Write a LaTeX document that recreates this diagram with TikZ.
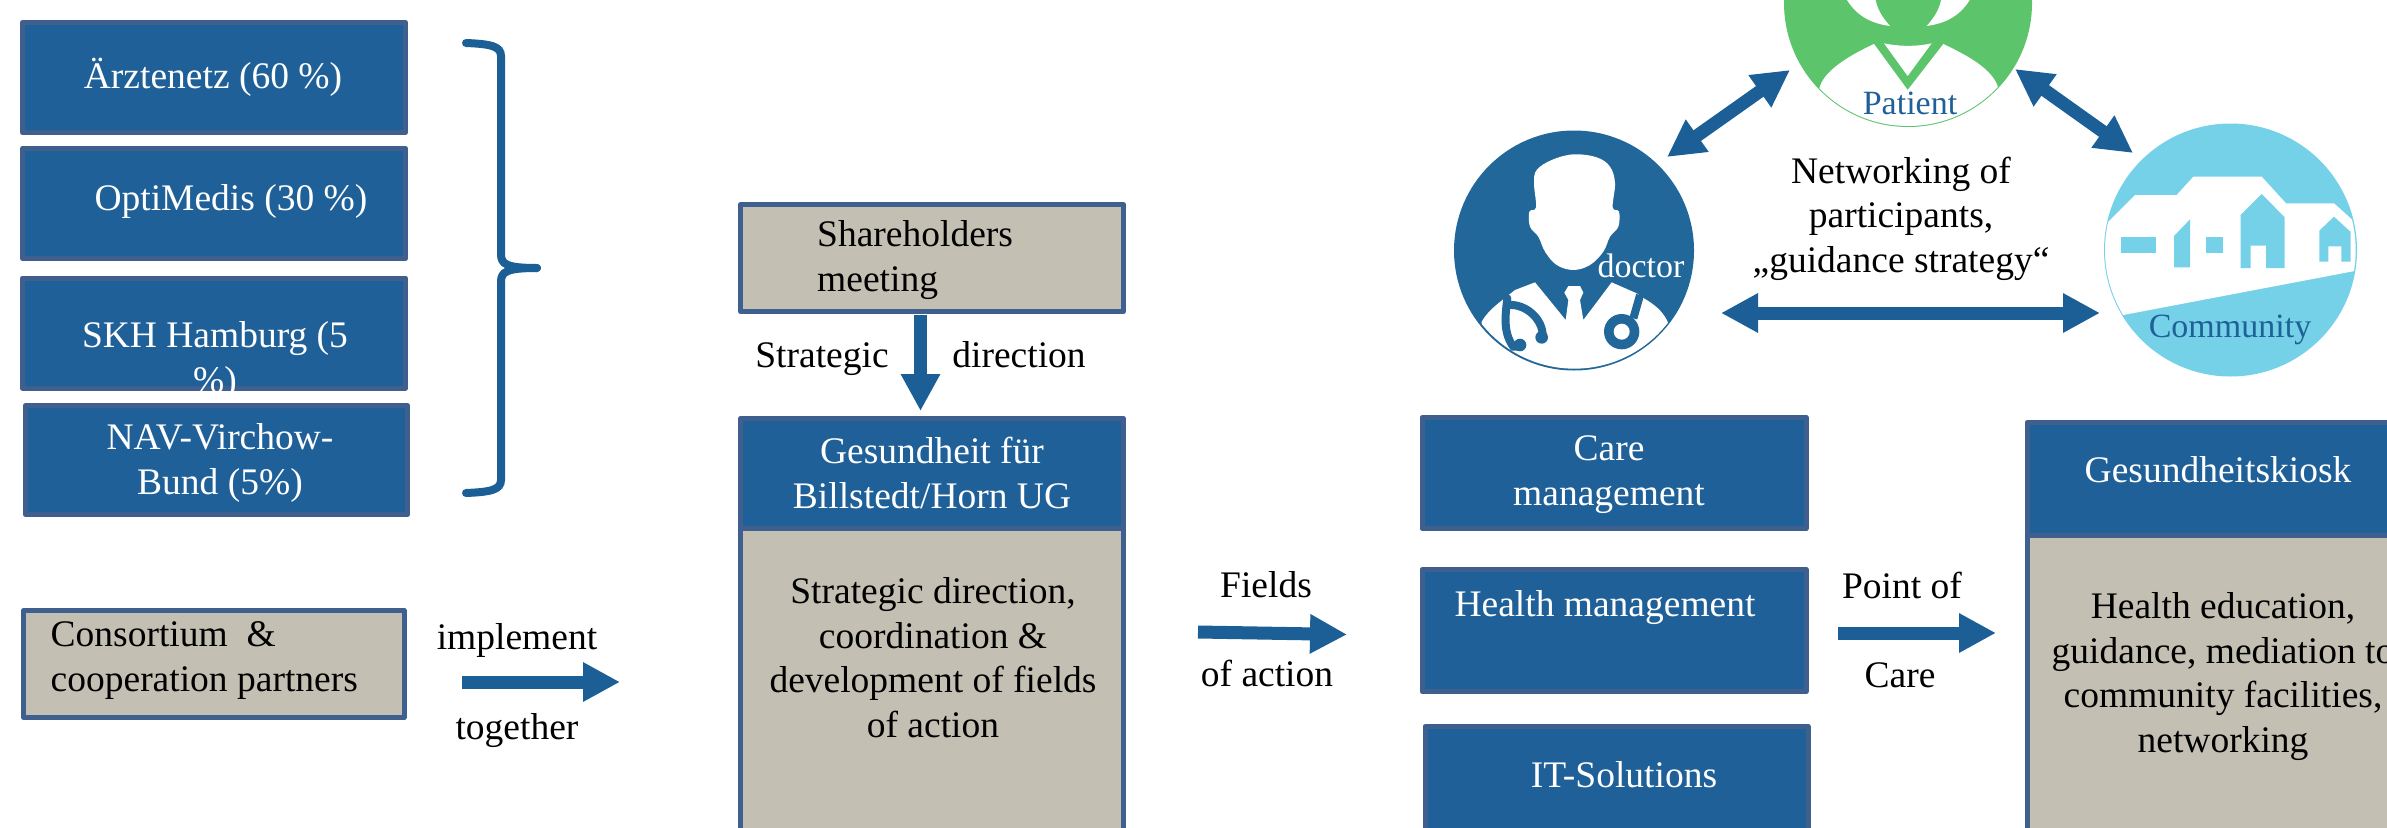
\documentclass[tikz,border=0pt]{standalone}
\usepackage{fontspec}
\setmainfont{Liberation Serif}
\usetikzlibrary{arrows.meta}
\definecolor{boxblue}{HTML}{1F6098}
\definecolor{edgeblue}{HTML}{3F5F8F}
\definecolor{boxtan}{HTML}{C3BFB3}
\definecolor{arrowblue}{HTML}{1C5F96}
\definecolor{docblue}{HTML}{22679A}
\definecolor{patgreen}{HTML}{5CC46B}
\definecolor{comcyan}{HTML}{75D1E8}
\tikzset{
  bluebox/.style={draw=edgeblue, line width=5pt, line join=round, fill=boxblue},
  tanbox/.style={draw=edgeblue, line width=5pt, line join=round, fill=boxtan},
  txt/.style={anchor=base, inner sep=0pt, align=center, font=\fontsize{37.5}{44.5}\selectfont},
  whitetxt/.style={txt, text=white},
  logotxt/.style={anchor=base, inner sep=0pt, font=\fontsize{34}{40}\selectfont},
  blockarrow/.style={line width=13pt, arrowblue, -{Triangle[length=37pt,width=37pt]}},
  twoarrow/.style={line width=13pt, arrowblue, {Triangle[length=37pt,width=37pt]}-{Triangle[length=37pt,width=37pt]}},
}
\begin{document}
\begin{tikzpicture}[x=1pt,y=-1pt]
    \clip (0,0) rectangle (2387,827);

    % partners
    \draw[bluebox] (22.5,22.5) rectangle (405.5,132.5);
    \node[whitetxt] (aerzte) at (213,88.5) {Ärztenetz (60 \%)};
    \draw[bluebox] (22.5,148.5) rectangle (405.5,258.5);
    \node[whitetxt] (optimedis) at (231,210) {OptiMedis (30 \%)};
    \begin{scope}
        \clip (0,275.5) rectangle (408,390.5);
        \draw[bluebox] (22.5,278) rectangle (405.5,388);
        \node[whitetxt] (skh) at (215,392) {SKH Hamburg (5\\\%)};
    \end{scope}
    \draw[bluebox] (25.5,405.5) rectangle (407.5,514.5);
    \node[whitetxt] (nav) at (220,494) {NAV-Virchow-\\Bund (5\%)};

    % brace
    \draw[arrowblue, line width=8pt, line cap=round] (466,43) .. controls (490,44) and (501,46) .. (501,56)
        -- (501,254) .. controls (501,264) and (506,268) .. (537,268);
    \draw[arrowblue, line width=8pt, line cap=round] (466,493) .. controls (490,492) and (501,490) .. (501,480)
        -- (501,282) .. controls (501,272) and (506,268) .. (537,268);

    % consortium
    \draw[tanbox] (23.5,610.5) rectangle (404,717.5);
    \node[txt, align=left, anchor=base west] (consortium) at (50.5,691) {Consortium ~\&\\cooperation partners};
    \node[txt] (implement) at (517,649) {implement};
    \node[txt] (together) at (517,739) {together};
    \coordinate (a1) at (462,682);
    \coordinate (a2) at (620,682);
    \draw[blockarrow] (a1) -- (a2);

    % middle column
    \draw[tanbox] (740.5,204.5) rectangle (1123.5,311.5);
    \node[txt, align=left, anchor=base west] (share) at (817,291) {Shareholders\\meeting};
    \node[txt] (strat) at (822,367) {Strategic};
    \node[txt] (direct) at (1019,367) {direction};
    \coordinate (s1) at (920.5,315);
    \coordinate (s2) at (920.5,411);
    \draw[blockarrow] (s1) -- (s2);
    \draw[tanbox] (740.5,528) rectangle (1123.5,850);
    \draw[bluebox] (740.5,418.5) rectangle (1123.5,528);
    \node[whitetxt] (gesund) at (932,508) {Gesundheit für\\Billstedt/Horn UG};
    \node[txt] (gesundtxt) at (933,737) {Strategic direction,\\coordination \&\\development of fields\\of action};

    % fields of action
    \node[txt] (fields) at (1266,597) {Fields};
    \node[txt] (ofaction) at (1267,686) {of action};
    \coordinate (f1) at (1198,632);
    \coordinate (f2) at (1347,634.5);
    \draw[blockarrow] (f1) -- (f2);
    \draw[bluebox] (1422,417.5) rectangle (1806,528.5);
    \node[whitetxt] (care) at (1609,505) {Care\\management};
    \draw[bluebox] (1422,569.5) rectangle (1806,691.5);
    \node[whitetxt] (health) at (1605,616) {Health management};
    \draw[bluebox] (1425,726.5) rectangle (1808,850);
    \node[whitetxt] (it) at (1624,787) {IT-Solutions};

    % point of care
    \node[txt] (point) at (1902,598) {Point of};
    \node[txt] (careb) at (1900,687) {Care};
    \coordinate (p1) at (1838,633);
    \coordinate (p2) at (1996,633);
    \draw[blockarrow] (p1) -- (p2);
    \draw[tanbox] (2027,535) rectangle (2420,850);
    \draw[bluebox] (2027,422.5) rectangle (2420,535);
    \node[whitetxt] (kiosk) at (2218,482) {Gesundheitskiosk};
    \node[txt] (kiosktxt) at (2223,752) {Health education,\\guidance, mediation to\\community facilities,\\networking};

    % doctor
    \fill[docblue] (1574,250.5) circle (120);
    \begin{scope}[shift={(1420,120)},x=1/3*1pt,y=-1/3*1pt]
        \fill[white] plot[smooth cycle, tension=0.6] coordinates {(395,120) (460,103) (530,112) (570,140) (585,190) (578,262) (597,275) (595,320) (570,350) (550,395) (510,435) (460,450) (410,435) (375,395) (355,350) (330,320) (328,275) (348,262) (342,190) (350,150)};
        \begin{scope}
            \clip (463,391) circle (355);
            \fill[white] (185,605) .. controls (205,570) and (235,550) .. (285,510) -- (345,487) -- (437,600) -- (445,540) -- (433,518) -- (445,498) -- (480,498) -- (490,518) -- (480,540) -- (490,600) -- (575,487) -- (650,520) -- (675,537) .. controls (715,560) and (735,585) .. (745,610) -- (745,780) -- (185,780) -- cycle;
            \draw[docblue, line width=8pt, line cap=round] (262,535) .. controls (255,590) and (250,640) .. (280,680) -- (300,680);
            \draw[docblue, line width=8pt, line cap=round] (262,555) .. controls (320,550) and (370,600) .. (368,650);
            \draw[docblue, line width=8pt] (660,525) -- (640,595);
        \end{scope}
        \fill[docblue] (300,675) circle (19);
        \fill[docblue] (365,652) circle (19);
        \fill[docblue] (605,635) circle (53);
        \fill[white] (605,635) circle (24);
    \end{scope}
    \node[logotxt, text=white] (doctor) at (1641,277) {doctor};

    % patient
    \fill[patgreen] (1908,3) circle (124);
    \begin{scope}[shift={(1760,0)},x=1/3*1pt,y=-1/3*1pt]
        \fill[white] (255,-10) .. controls (285,45) and (330,70) .. (390,78) .. controls (365,50) and (350,25) .. (345,-10) -- cycle;
        \fill[white] (635,-10) .. controls (605,45) and (560,70) .. (500,78) .. controls (525,50) and (540,25) .. (545,-10) -- cycle;
        \fill[white] (372,130) .. controls (420,140) and (470,140) .. (515,130) -- (443,228) -- cycle;
        \begin{scope}
            \clip (444,9) circle (369);
            \fill[white] (178,265) .. controls (190,215) and (260,170) .. (342,132) -- (443,270) -- (550,132) .. controls (630,170) and (700,210) .. (715,265) -- (715,400) -- (178,400) -- cycle;
        \end{scope}
    \end{scope}
    \node[logotxt, text=boxblue] (patient) at (1910,114) {Patient};

    % community
    \fill[comcyan] (2230.5,250) circle (126.5);
    \begin{scope}[shift={(2080,110)},x=1/3*1pt,y=-1/3*1pt]
        \begin{scope}
            \clip (451,420) circle (376);
            \fill[white] (60,360) -- (165,255) -- (290,255) -- (340,200) -- (545,200) -- (618,280) -- (762,280) -- (840,350) -- (840,480) -- (130,615) -- (60,615) -- cycle;
        \end{scope}
        \fill[comcyan] (122,382) rectangle (227,430);
        \fill[comcyan] (282,378) -- (330,328) -- (330,472) -- (282,472) -- cycle;
        \fill[comcyan] (377,382) rectangle (430,430);
        \fill[comcyan] (482,315) -- (545,252) -- (614,322) -- (614,474) -- (558,474) -- (558,407) -- (512,407) -- (512,474) -- (482,474) -- cycle;
        \fill[comcyan] (718,362) -- (762,320) -- (812,366) -- (812,455) -- (784,455) -- (784,409) -- (745,409) -- (745,455) -- (718,455) -- cycle;
    \end{scope}
    \node[logotxt, text=boxblue] (community) at (2230,337) {Community};

    % networking
    \node[txt] (networking) at (1901,272) {Networking of\\participants,\\„guidance strategy“};
    \coordinate (dp1) at (1667,157);
    \coordinate (dp2) at (1790,70);
    \coordinate (pc1) at (2015,69);
    \coordinate (pc2) at (2133,153);
    \coordinate (dc1) at (1721,313);
    \coordinate (dc2) at (2100,313);
    \draw[twoarrow] (dp1) -- (dp2);
    \draw[twoarrow] (pc1) -- (pc2);
    \draw[twoarrow] (dc1) -- (dc2);
\end{tikzpicture}
\end{document}
